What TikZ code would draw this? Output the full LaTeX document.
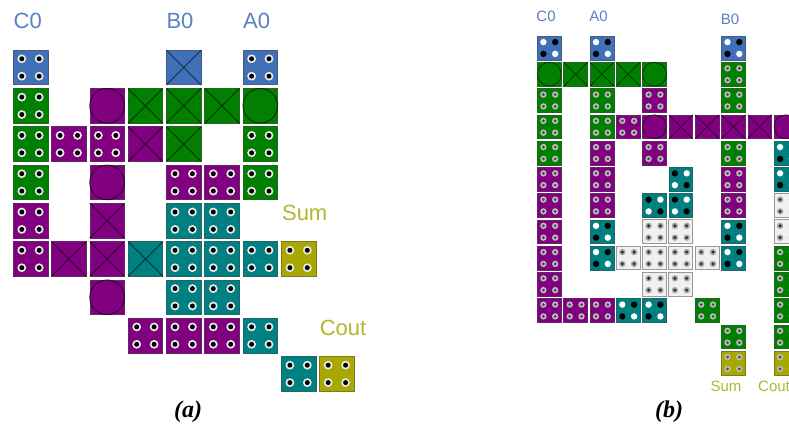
\documentclass[tikz,border=0pt]{standalone}
\usepackage{fontspec}
\setmainfont{Liberation Serif}
\setsansfont{Liberation Sans}
\definecolor{bl}{HTML}{4070B8}
\definecolor{gr}{HTML}{007F00}
\definecolor{pu}{HTML}{800080}
\definecolor{te}{HTML}{008080}
\definecolor{ol}{HTML}{A8A800}
\definecolor{wh}{HTML}{F0F0F0}
\definecolor{lblue}{HTML}{5B80C4}
\definecolor{lolive}{HTML}{B0B82E}
\newcommand\cellHw{17.3}
\newcommand\cellDd{8.7}
\newcommand\cellRo{4.4}
\newcommand\cellRi{2.5}
\newcommand\cellRb{3.3}
\newcommand\cellLw{0.9pt}
\newcommand\drawbase[1]{\path[fill=#1,draw=black!30!#1!70!gray,line width=0.6pt] (-\cellHw,-\cellHw) rectangle (\cellHw,\cellHw);}
% X cell
\newcommand\drawX[1]{\drawbase{#1}\draw[draw=black!60!#1,line width=\cellLw] (-\cellHw,-\cellHw) -- (\cellHw,\cellHw) (-\cellHw,\cellHw) -- (\cellHw,-\cellHw);}
% O cell
\newcommand\drawO[1]{\drawbase{#1}\draw[draw=black!60!#1,line width=\cellLw] (0,0) circle[radius=\cellHw];}
% ringed-dot cell
\newcommand\drawD[1]{\drawbase{#1}\foreach \sx in {-1,1}{\foreach \sy in {-1,1}{%
  \fill[ringc] (\sx*\cellDd,\sy*\cellDd) circle[radius=\cellRo];
  \fill[corec] (\sx*\cellDd,\sy*\cellDd) circle[radius=\cellRi];}}}
% white on main diagonal, black off it
\newcommand\drawB[1]{\drawbase{#1}%
  \fill[white] (-\cellDd,-\cellDd) circle[radius=\cellRb] (\cellDd,\cellDd) circle[radius=\cellRb];
  \fill[black] (\cellDd,-\cellDd) circle[radius=\cellRb] (-\cellDd,\cellDd) circle[radius=\cellRb];}
% black on main diagonal, white off it
\newcommand\drawN[1]{\drawbase{#1}%
  \fill[black] (-\cellDd,-\cellDd) circle[radius=\cellRb] (\cellDd,\cellDd) circle[radius=\cellRb];
  \fill[white] (\cellDd,-\cellDd) circle[radius=\cellRb] (-\cellDd,\cellDd) circle[radius=\cellRb];}
\tikzset{
  ringc/.style={fill=white!92!black},
  corec/.style={fill=black},
  lab/.style={inner sep=0pt,anchor=center},
  captext/.style={font=\rmfamily\bfseries\itshape\fontsize{24}{24}\selectfont,inner sep=0pt,anchor=center}
}
\begin{document}
\begin{tikzpicture}[x=1pt,y=-1pt]
\useasboundingbox (0,0) rectangle (789,427);
\clip (0,0) rectangle (789,427);
\fill[white] (0,0) rectangle (789,427);
% ---- panel (a)
\foreach \c/\r/\k/\t in {
 1/1/bl/D,5/1/bl/X,7/1/bl/D,
 1/2/gr/D,3/2/pu/O,4/2/gr/X,5/2/gr/X,6/2/gr/X,7/2/gr/O,
 1/3/gr/D,2/3/pu/D,3/3/pu/D,4/3/pu/X,5/3/gr/X,7/3/gr/D,
 1/4/gr/D,3/4/pu/O,5/4/pu/D,6/4/pu/D,7/4/gr/D,
 1/5/pu/D,3/5/pu/X,5/5/te/D,6/5/te/D,
 1/6/pu/D,2/6/pu/X,3/6/pu/X,4/6/te/X,5/6/te/D,6/6/te/D,7/6/te/D,8/6/ol/D,
 3/7/pu/O,5/7/te/D,6/7/te/D,
 4/8/pu/D,5/8/pu/D,6/8/pu/D,7/8/te/D,
 8/9/te/D,9/9/ol/D}{
  \pgfmathsetmacro\cx{30.5+38.3*(\c-1)}
  \pgfmathsetmacro\cy{67.5+38.3*(\r-1)}
  \begin{scope}[shift={(\cx,\cy)}]
    \csname draw\t\endcsname{\k}
  \end{scope}
}
\node[lab,text=lblue,font=\sffamily\fontsize{22}{22}\selectfont] (c0a) at (27.7,21) {C0};
\node[lab,text=lblue,font=\sffamily\fontsize{22}{22}\selectfont] (b0a) at (180,21) {B0};
\node[lab,text=lblue,font=\sffamily\fontsize{22}{22}\selectfont] (a0a) at (256.7,21) {A0};
\node[lab,text=lolive,font=\sffamily\fontsize{22}{22}\selectfont] (suma) at (304.7,213) {Sum};
\node[lab,text=lolive,font=\sffamily\fontsize{22}{22}\selectfont] (couta) at (343,328) {Cout};
\node[captext] (capa) at (188,412) {(a)};
% ---- panel (b)
\renewcommand\cellHw{11.9}
\renewcommand\cellDd{5.9}
\renewcommand\cellRo{3.2}
\renewcommand\cellRi{1.6}
\renewcommand\cellRb{3.2}
\renewcommand\cellLw{0.7pt}
\tikzset{ringc/.style={fill=white!75!black},corec/.style={fill=black!70}}
\foreach \c/\r/\k/\t in {
 1/1/bl/B,3/1/bl/B,8/1/bl/B,
 1/2/gr/O,2/2/gr/X,3/2/gr/X,4/2/gr/X,5/2/gr/O,8/2/gr/D,
 1/3/gr/D,3/3/gr/D,5/3/pu/D,8/3/gr/D,
 1/4/gr/D,3/4/gr/D,4/4/pu/D,5/4/pu/O,6/4/pu/X,7/4/pu/X,8/4/pu/X,9/4/pu/X,10/4/pu/O,
 1/5/gr/D,3/5/pu/D,5/5/pu/D,8/5/gr/D,10/5/te/B,
 1/6/pu/D,3/6/pu/D,6/6/te/N,8/6/pu/D,10/6/te/B,
 1/7/pu/D,3/7/pu/D,5/7/te/N,6/7/te/N,8/7/pu/D,
 1/8/pu/D,3/8/te/B,8/8/te/B,
 1/9/pu/D,3/9/te/B,8/9/te/B,10/9/gr/D,
 1/10/pu/D,10/10/gr/D,
 1/11/pu/D,2/11/pu/D,3/11/pu/D,4/11/te/B,5/11/te/B,7/11/gr/D,10/11/gr/D,
 8/12/gr/D,10/12/gr/D,
 8/13/ol/D,10/13/ol/D}{
  \pgfmathsetmacro\cx{549.3+26.3*(\c-1)}
  \pgfmathsetmacro\cy{48+26.25*(\r-1)}
  \begin{scope}[shift={(\cx,\cy)}]
    \csname draw\t\endcsname{\k}
  \end{scope}
}
% light cells of panel (b)
\tikzset{ringc/.style={fill=black!35},corec/.style={fill=black!85}}
\foreach \c/\r in {10/7,5/8,6/8,10/8,4/9,5/9,6/9,7/9,5/10,6/10}{
  \pgfmathsetmacro\cx{549.3+26.3*(\c-1)}
  \pgfmathsetmacro\cy{48+26.25*(\r-1)}
  \begin{scope}[shift={(\cx,\cy)}]
    \path[fill=wh,draw=black!40,line width=0.9pt] (-\cellHw,-\cellHw) rectangle (\cellHw,\cellHw);
    \foreach \sx in {-1,1}{\foreach \sy in {-1,1}{%
      \fill[ringc] (\sx*\cellDd,\sy*\cellDd) circle[radius=\cellRo];
      \fill[corec] (\sx*\cellDd,\sy*\cellDd) circle[radius=\cellRi];}}
  \end{scope}
}
\node[lab,text=lblue,font=\sffamily\fontsize{15}{15}\selectfont] (c0b) at (546,16) {C0};
\node[lab,text=lblue,font=\sffamily\fontsize{15}{15}\selectfont] (a0b) at (598.5,16) {A0};
\node[lab,text=lblue,font=\sffamily\fontsize{15}{15}\selectfont] (b0b) at (730,19) {B0};
\node[lab,text=lolive,font=\sffamily\fontsize{15}{15}\selectfont] (sumb) at (726,386) {Sum};
\node[lab,text=lolive,font=\sffamily\fontsize{15}{15}\selectfont,anchor=west] (coutb) at (758,386) {Cout};
\node[captext] (capb) at (669,412) {(b)};
\end{tikzpicture}
\end{document}
